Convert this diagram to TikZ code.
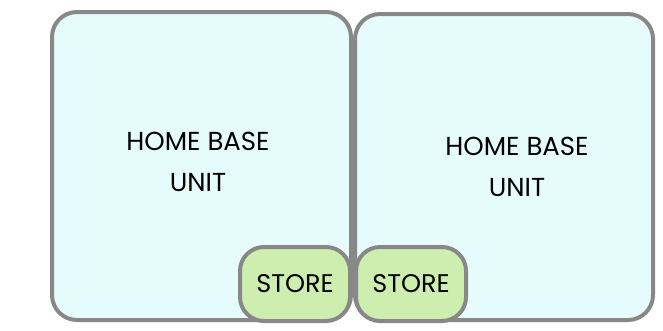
\documentclass[tikz,border=0pt]{standalone}
\usepackage{fontspec}
\setmainfont{Poppins}
\usepackage{tikz}
\usetikzlibrary{positioning}

\definecolor{unitfill}{HTML}{E6FCFC}
\definecolor{storefill}{HTML}{CDEEAE}
\definecolor{edgegray}{HTML}{888888}

\tikzset{
  unit/.style={draw=edgegray,fill=unitfill,line width=4pt,rounded corners=25pt,inner sep=0pt},
  unitlabel/.style={align=center,font=\fontsize{26}{41}\selectfont},
  store/.style={draw=edgegray,fill=storefill,line width=4pt,rounded corners=24pt,
    minimum width=110pt,minimum height=74pt,font=\fontsize{25.5}{30}\selectfont,inner sep=0pt}
}

\begin{document}
\begin{tikzpicture}[x=1pt,y=-1pt]
  \useasboundingbox (0,0) rectangle (663,330);
  \node[unit,minimum width=299pt,minimum height=308pt] (home1) at (201.5,166) {};
  \node[unit,minimum width=298pt,minimum height=306pt] (home2) at (504,167) {};
  \node[unitlabel] (label1) at (198,162) {HOME BASE\\UNIT};
  \node[unitlabel] (label2) at (517,167) {HOME BASE\\UNIT};
  \node[store] (store1) at (295,284) {STORE};
  \node[store] (store2) at (411,284) {STORE};
\end{tikzpicture}
\end{document}
